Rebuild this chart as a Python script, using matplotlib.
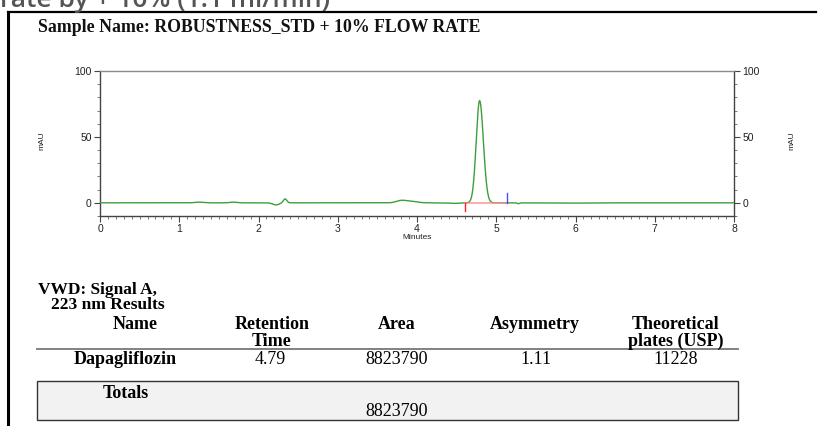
import numpy as np
import matplotlib
matplotlib.use("Agg")
import matplotlib.pyplot as plt
from matplotlib.lines import Line2D
from matplotlib.patches import Rectangle

# ---- data ----
sample_name = "Sample Name: ROBUSTNESS_STD + 10% FLOW RATE"
signal_title = ["VWD: Signal A,", "223 nm Results"]

col_headers = ["Name", "Retention\nTime", "Area", "Asymmetry", "Theoretical\nplates (USP)"]
compound = "Dapagliflozin"
retention_time = 4.79
area = 8823790
asymmetry = 1.11
plates_usp = 11228
total_area = 8823790

# main peak apex height (mAU)
main_height = 77.5

# small baseline features: time (min), height (mAU), width (min)
minor_rt = [1.25, 1.68, 2.22, 2.335, 3.80, 3.93, 4.47, 5.28, 5.85]
minor_h = [0.5, 0.5, -1.6, 3.0, 1.7, 1.2, -0.4, -0.6, -0.25]
minor_w = [0.05, 0.04, 0.04, 0.022, 0.06, 0.07, 0.07, 0.015, 0.25]

# integration marks
peak_start = 4.60
peak_end = 5.13

W, H = 818, 426
fig = plt.figure(figsize=(W / 100, H / 100), dpi=100)


def fx(x):
    return x / W


def fy(y):
    return 1 - y / H


# clipped heading above the frame
fig.text(fx(0), fy(7), "rate by + 10% (1.1 ml/min)", fontsize=19, color="#555555",
         family="Open Sans", fontweight="semibold", ha="left", va="baseline")

# report frame
fig.add_artist(Line2D([fx(8), fx(816)], [fy(12), fy(12)], color="black", lw=1.6))
fig.add_artist(Line2D([fx(8), fx(8)], [fy(12), fy(426)], color="black", lw=2.2))

fig.text(fx(38), fy(27), sample_name, fontsize=12.8, family="Liberation Serif",
         fontweight="bold", ha="left", va="center", color="#111111")

# ---- chromatogram ----
ax = fig.add_axes([fx(100), fy(216), fx(634), (216 - 71) / H])
t = np.linspace(0, 8, 3201)

# bi-gaussian main peak, width from plate count, tail from asymmetry
sigma = retention_time / np.sqrt(plates_usp)
s_left = 2 * sigma / (1 + asymmetry)
s_right = asymmetry * s_left
s = np.where(t < retention_time, s_left, s_right)
signal = main_height * np.exp(-0.5 * ((t - retention_time) / s) ** 2)
for rt, h, w in zip(minor_rt, minor_h, minor_w):
    signal += h * np.exp(-0.5 * ((t - rt) / w) ** 2)

ax.plot(t, signal, color="#3c9e3c", lw=1.0, zorder=3)
ax.plot([peak_start, peak_end], [0, 0], color="#ff8c8c", lw=1.2, zorder=4, alpha=0.85)
ax.plot([peak_start, peak_start], [0, -6.5], color="#ff2020", lw=1.0, zorder=5)
ax.plot([peak_end, peak_end], [0, 7.5], color="#4a4aff", lw=1.0, zorder=5)

ax.set_xlim(0, 8)
ax.set_ylim(-10, 100)
ax.set_xticks(range(0, 9))
ax.set_xticks(np.arange(0, 8.01, 0.1), minor=True)
ax.set_yticks([0, 50, 100])
ax.set_yticks(range(-10, 101, 10), minor=True)

for side in ["left", "right", "bottom"]:
    ax.spines[side].set_color("#444444")
    ax.spines[side].set_linewidth(1.0)
ax.spines["top"].set_color("#8a8a8a")
ax.spines["top"].set_linewidth(1.0)

ax.tick_params(axis="both", which="major", labelsize=7.5, length=4, width=0.8,
               color="#444444", labelcolor="#222222", pad=2)
ax.tick_params(axis="both", which="minor", length=2.5, width=0.6, color="#666666")
ax.tick_params(axis="y", which="both", left=True, right=True, labelleft=True,
               labelright=True)
for lab in ax.get_xticklabels() + ax.get_yticklabels():
    lab.set_family("Liberation Sans")

fig.text(fx(417), fy(238), "Minutes", fontsize=6, family="Liberation Sans",
         ha="center", va="center", color="#222222")
fig.text(fx(42), fy(141), "mAU", fontsize=6, family="Liberation Sans",
         rotation=90, ha="center", va="center", color="#222222")
fig.text(fx(792), fy(141), "mAU", fontsize=6, family="Liberation Sans",
         rotation=90, ha="center", va="center", color="#222222")

# ---- results table ----
serif = "Liberation Serif"
fs = 13
fig.text(fx(38), fy(290), signal_title[0], fontsize=12.5, family=serif,
         fontweight="bold", ha="left", va="center")
fig.text(fx(51), fy(305), signal_title[1], fontsize=12.5, family=serif,
         fontweight="bold", ha="left", va="center")

col_x = [135, 272, 397, 535, 676]
for x, head in zip(col_x, col_headers):
    fig.text(fx(x), fy(316), head, fontsize=fs, family=serif, fontweight="bold",
             ha="center", va="top", linespacing=1.0)

fig.add_artist(Line2D([fx(37), fx(738)], [fy(349), fy(349)], color="#777777", lw=1.3))

row = [compound, f"{retention_time:.2f}", f"{area}", f"{asymmetry:.2f}", f"{plates_usp}"]
row_x = [125, 270, 397, 536, 676]
for i, (x, val) in enumerate(zip(row_x, row)):
    fig.text(fx(x), fy(360), val, fontsize=fs, family=serif,
             fontweight="bold" if i == 0 else "normal", ha="center", va="center")

fig.add_artist(Rectangle((fx(37), fy(420)), fx(738 - 37), (420 - 381) / H,
                         facecolor="#f2f2f2", edgecolor="#333333", lw=1.0))
fig.text(fx(126), fy(394), "Totals", fontsize=fs, family=serif, fontweight="bold",
         ha="center", va="center")
fig.text(fx(397), fy(411), f"{total_area}", fontsize=fs, family=serif,
         ha="center", va="center")

fig.savefig("out.png", dpi=100)
